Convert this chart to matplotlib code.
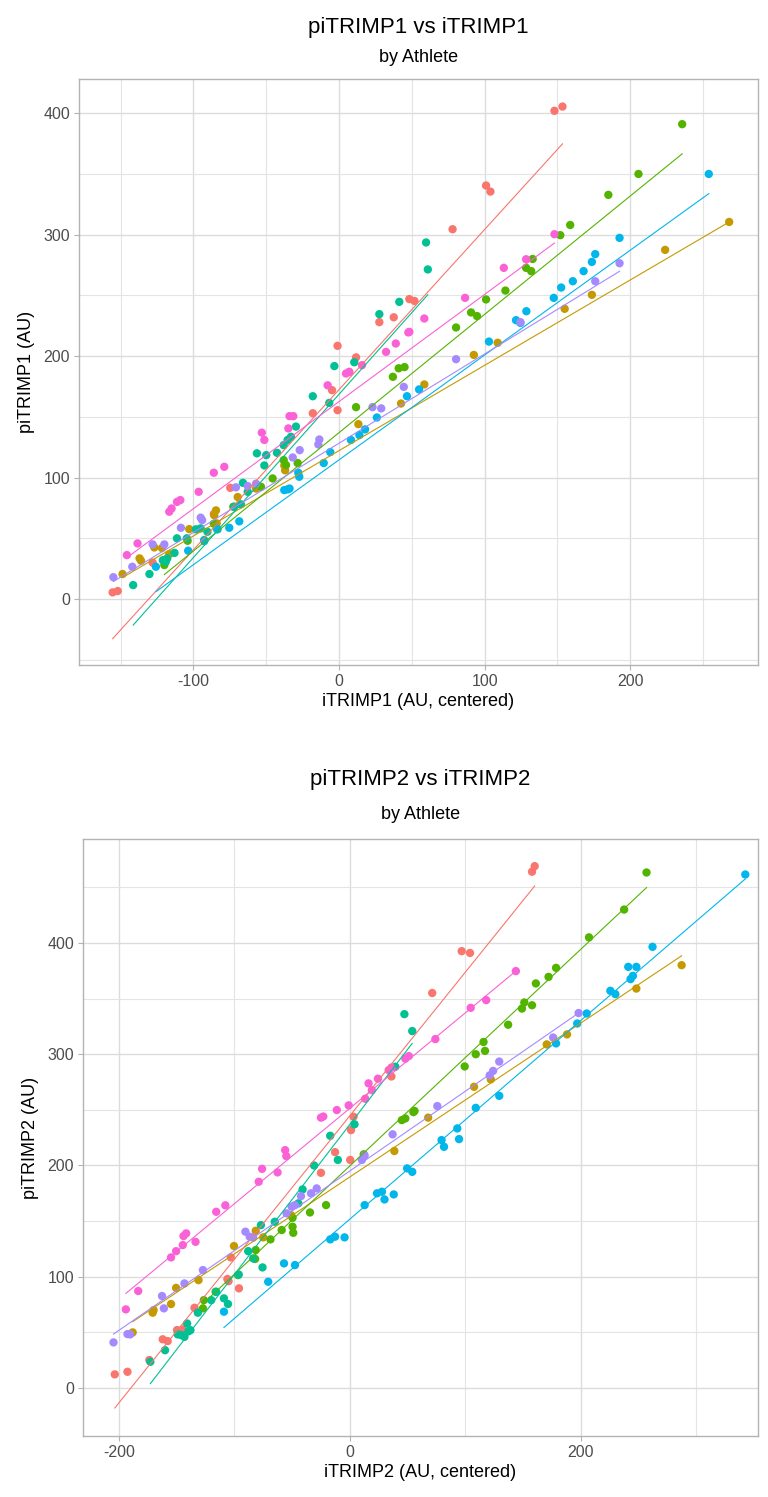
import numpy as np
import matplotlib
matplotlib.use("Agg")
import matplotlib.pyplot as plt

plt.rcParams['font.family'] = ['Liberation Sans', 'DejaVu Sans']
plt.rcParams['axes.unicode_minus'] = False

# ggplot hue palette, one colour per athlete
athletes = ["A1", "A2", "A3", "A4", "A5", "A6", "A7"]
colors = ["#F8766D", "#C49A00", "#53B400", "#00C094", "#00B6EB", "#A58AFF", "#FB61D7"]

# ---- panel 1 : piTRIMP1 vs iTRIMP1 ----
p1_red_x = [-155.5, -152, -128, -86, -74.7, -18, -4.8, -1, 7, -1, 11.7, 27.7, 37.6, 48.3, 51.8, 78, 101, 104, 148, 153.5]
p1_red_y = [5.5, 6.6, 30, 70, 91.6, 153, 172, 155.5, 187, 208.5, 199, 228, 232, 247, 245.5, 304.5, 340.5, 335.5, 402, 405.5]
p1_gold_x = [-148.7, -137, -136, -126.9, -121.6, -116.6, -102.9, -85.7, -84.5, -84, -69.6, -57, -37, -37.6, 13.3, 42.6,
             58.6, 92.6, 109, 155, 173.7, 224, 268]
p1_gold_y = [20.6, 33.5, 31.5, 42.5, 42, 37, 57.6, 69, 73, 62.3, 84, 91, 106, 110, 144, 161,
             176.7, 201, 211, 239, 250.5, 287.5, 310.5]
p1_green_x = [-120, -104, -86, -72.6, -53.6, -45.6, -38, -36.4, -28.4, 11.7, 37, 41, 45, 80.4, 90.7, 94.8, 101, 114.3,
              128.5, 132, 133, 152, 158.8, 185, 205.7, 235.7]
p1_green_y = [28, 48, 62, 76, 92.4, 99.3, 114.4, 110.3, 112, 158, 183, 190, 191, 223.6, 236, 233, 246.7, 254,
              272.7, 270, 280, 299.6, 308, 332.8, 350, 391]
p1_teal_x = [-141.4, -130.2, -121, -119, -118, -113, -111.3, -104.5, -98.3, -95, -90.4, -92.6, -83.8, -72, -67.4, -66,
             -62.7, -56.4, -50, -51.3, -42.6, -38, -35.3, -33, -29.6, -18, -6.7, -3.2, 10.5, 27.7, 41.4, 59.8, 61]
p1_teal_y = [11.5, 20.6, 32, 30.7, 33.5, 38, 50, 50, 57.4, 58.2, 55.4, 48.6, 57.6, 76, 78, 95.7,
             88.3, 120, 118.5, 110, 120.4, 126.7, 131, 133.6, 142, 167, 161.5, 191.8, 195, 234.6, 244.7, 293.6, 271.4]
p1_blue_x = [-125.8, -103.6, -92.6, -83.4, -75.4, -68.5, -37.6, -35.3, -34, -27.3, -28, -10.5, -6, 8.2, 14, 17.9, 26,
             46.7, 55, 103, 121.6, 124.6, 128.7, 147.5, 152.6, 160.6, 168, 173.7, 176, 192.7, 254]
p1_blue_y = [26.6, 39.8, 47.7, 57.4, 58.7, 64, 89.7, 90.3, 91, 100.7, 104, 112, 121, 131, 135, 139.7, 149.5,
             167, 172.6, 212, 229.6, 227.4, 237, 248, 256.5, 261.7, 270, 277.6, 284, 297.4, 350]
p1_purple_x = [-155, -142, -128, -120, -108.6, -95, -94, -70.8, -62.7, -57, -31.8, -27, -14.2, -13.5, 23, 29, 44.5,
               80.4, 124.6, 176, 192.7]
p1_purple_y = [18, 26.6, 45, 45, 58.7, 67, 65, 92, 93, 95, 116.6, 122.6, 127.3, 131.4, 158, 157, 174.7,
               197.5, 228, 261.7, 276.5]
p1_pink_x = [-145.7, -138.4, -116.6, -115, -111.3, -109, -96.4, -86, -78.8, -53, -51.3, -34, -31.4, -34.8, -7.8, 4.8,
             7, 15.8, 32.3, 39, 47.6, 48.3, 58.6, 86.6, 113.2, 128.5, 148]
p1_pink_y = [36.2, 45.8, 71.9, 74.6, 80, 81.5, 88.3, 104, 108.9, 137, 131, 150.6, 150.6, 140.5, 176, 185.7,
             187, 192.6, 203.5, 210.4, 219.5, 220, 231, 248, 272.7, 279.8, 300.4]
# model lines per athlete (intercept at 0, slope)
p1_intercept = [172.4, 122.2, 137.0, 168.6, 114.6, 128.3, 162.6]
p1_slope = [1.3186, 0.7025, 0.974, 1.344, 0.863, 0.7347, 0.882]

# ---- panel 2 : piTRIMP2 vs iTRIMP2 ----
p2_red_x = [-203.5, -192.5, -173.6, -162, -157.7, -149.6, -144.6, -134.5, -106, -105, -96, -103, -25, -12.8, 0.3, 1,
            3.2, 36, 71.3, 96.8, 104, 157.7, 160]
p2_red_y = [12.3, 14.6, 25.2, 43.8, 42.2, 52.1, 52.7, 72.1, 98, 96, 89.6, 117.4, 193.4, 212, 205, 231.8,
            243.8, 280, 355, 392.6, 391, 464, 469]
p2_gold_x = [-188, -170.7, -169.9, -154.8, -150.4, -131, -100.3, -81.5, -75, -51, 38.5, 67.8, 107.5, 122, 170.4, 188,
             248, 287.2]
p2_gold_y = [50, 67.7, 70, 75.5, 90, 97, 127.6, 141.3, 135.4, 155.4, 213, 243, 270.7, 277.4, 308.8, 317.8,
             359, 380]
p2_green_x = [-127.2, -126.4, -116.2, -96.8, -82, -81.5, -68.7, -59, -49.6, -49, -49.6, -34.5, -20.6, 12, 45, 48, 55,
              56, 99.4, 109, 117, 115.7, 137, 149, 151, 157.7, 161, 172, 178.5, 207, 237.4, 256.8]
p2_green_y = [71.6, 79, 86.5, 101.5, 116, 124, 133.6, 142, 145, 139.5, 153, 157.8, 164.4, 210, 240.8, 242.3, 248,
              249, 289, 300, 303, 311, 326.5, 341, 346.5, 344, 363.6, 369.5, 377.6, 405, 430, 463.3]
p2_teal_x = [-172.7, -160, -149, -146, -143.2, -140.9, -139.7, -138, -131.6, -120, -115.7, -109, -105.5, -96.2, -88,
             -83.7, -75.6, -77, -65, -44.6, -40.9, -31, -17, -10.4, 4, 39.4, 47.2, 54]
p2_teal_y = [23.6, 34, 48.2, 47.6, 46, 58, 51, 52, 67.7, 79, 86.5, 80.6, 75.5, 102, 123,
             116.5, 108.4, 146.4, 149.4, 166, 178.5, 200, 226.7, 205, 237, 288.7, 336, 320.8]
p2_blue_x = [-109, -70.7, -57, -47.5, -17, -12.8, -4.6, 12.8, 23.5, 27.8, 30, 38, 49.6, 54, 79.4, 81.5, 94.5, 93, 109,
             129.3, 178.5, 196.8, 205, 225.5, 229.8, 241, 248, 245, 243, 262, 342.3]
p2_blue_y = [68.6, 95.5, 112, 110.5, 133.6, 136, 135.4, 164.4, 175, 176.4, 169.5, 174, 197.4, 194.3, 222.8, 216.8,
             223.7, 233.3, 251.8, 262.6, 309.7, 327.6, 336.6, 357, 354, 378.5, 378.5, 370.4, 367.5, 396.5, 461.5]
p2_purple_x = [-204.6, -192.5, -190.2, -162.6, -161, -143.2, -127.2, -90.4, -86.7, -83.7, -54.8, -50.4, -47.5, -42.3,
               -33.6, -28.7, 10.4, 12.8, 37, 75.7, 121, 124, 129.3, 176, 198]
p2_purple_y = [41, 48.5, 48.2, 82.7, 71.6, 94, 106, 140.5, 136, 135.2, 157, 163, 164.4, 172.5,
               175, 179.4, 205, 209, 228, 253.4, 281, 285, 293.4, 315, 337]
p2_pink_x = [-193.9, -183.2, -154.8, -150.4, -144.6, -144, -141.7, -133.6, -115.7, -107.8, -78.9, -76, -62.6, -56, -55,
             -25, -23, -11.3, -1, 13.3, 16.2, 19, 24.3, 33.6, 36, 48, 51, 74, 104.6, 118, 143.7]
p2_pink_y = [70.7, 87.2, 117.4, 123, 128.5, 136.6, 139, 131.4, 158.4, 164.2, 185.4, 197, 193.8, 213.8, 208.4,
             243, 244, 249.8, 254, 260, 273.8, 267.7, 278, 285.7, 288, 296, 298.3, 313.6, 341.7, 348.6, 374.7]
p2_intercept = [244.7, 189.7, 199.6, 236.9, 151.8, 195.1, 251.4]
p2_slope = [1.2906, 0.692, 0.974, 1.349, 0.8931, 0.7166, 0.858]

p1_xs = [p1_red_x, p1_gold_x, p1_green_x, p1_teal_x, p1_blue_x, p1_purple_x, p1_pink_x]
p1_ys = [p1_red_y, p1_gold_y, p1_green_y, p1_teal_y, p1_blue_y, p1_purple_y, p1_pink_y]
p2_xs = [p2_red_x, p2_gold_x, p2_green_x, p2_teal_x, p2_blue_x, p2_purple_x, p2_pink_x]
p2_ys = [p2_red_y, p2_gold_y, p2_green_y, p2_teal_y, p2_blue_y, p2_purple_y, p2_pink_y]


def draw_panel(ax, xs, ys, intercepts, slopes, xlim, ylim, xmajor, xminor, ymajor, yminor):
    for xv, yv, col in zip(xs, ys, colors):
        ax.scatter(xv, yv, s=36, color=col, edgecolors='none', zorder=3)
    for xv, a, b, col in zip(xs, intercepts, slopes, colors):
        xl = np.array([min(xv), max(xv)])
        ax.plot(xl, a + b * xl, color=col, lw=0.8, zorder=4)
    ax.set_xlim(xlim)
    ax.set_ylim(ylim)
    ax.set_xticks(xmajor)
    ax.set_xticks(xminor, minor=True)
    ax.set_yticks(ymajor)
    ax.set_yticks(yminor, minor=True)
    ax.grid(which='major', color='#dcdcdc', lw=1.0)
    ax.grid(which='minor', color='#e4e4e4', lw=0.8)
    ax.set_axisbelow(True)
    for sp in ax.spines.values():
        sp.set_color('#b3b3b3')
        sp.set_linewidth(1.0)
    ax.tick_params(which='major', length=3.5, color='#b3b3b3', labelcolor='#4d4d4d', labelsize=11.5, pad=3)
    ax.tick_params(which='minor', length=0)


fig = plt.figure(figsize=(7.68, 14.97), dpi=100)

ax1 = fig.add_axes([79 / 768, 1 - 665 / 1497, 679 / 768, 586 / 1497])
draw_panel(ax1, p1_xs, p1_ys, p1_intercept, p1_slope, (-178.6, 287.8), (-54.3, 428.2),
           [-100, 0, 100, 200], [-150, -50, 50, 150, 250], [0, 100, 200, 300, 400], [-50, 50, 150, 250, 350])
ax1.set_xlabel("iTRIMP1 (AU, centered)", fontsize=13, labelpad=3)
ax1.set_ylabel("piTRIMP1 (AU)", fontsize=13, labelpad=6)
fig.text(ax1.get_position().x0 + ax1.get_position().width / 2, 1 - 27 / 1497, "piTRIMP1 vs iTRIMP1",
         ha='center', va='center', fontsize=16)
fig.text(ax1.get_position().x0 + ax1.get_position().width / 2, 1 - 58 / 1497, "by Athlete",
         ha='center', va='center', fontsize=13)

ax2 = fig.add_axes([83 / 768, 1 - 1436 / 1497, 675 / 768, 597 / 1497])
draw_panel(ax2, p2_xs, p2_ys, p2_intercept, p2_slope, (-231, 353.3), (-43.1, 493.4),
           [-200, 0, 200], [-100, 100, 300], [0, 100, 200, 300, 400], [50, 150, 250, 350, 450])
ax2.set_xlabel("iTRIMP2 (AU, centered)", fontsize=13, labelpad=3)
ax2.set_ylabel("piTRIMP2 (AU)", fontsize=13, labelpad=6)
fig.text(ax2.get_position().x0 + ax2.get_position().width / 2, 1 - 779 / 1497, "piTRIMP2 vs iTRIMP2",
         ha='center', va='center', fontsize=16)
fig.text(ax2.get_position().x0 + ax2.get_position().width / 2, 1 - 815 / 1497, "by Athlete",
         ha='center', va='center', fontsize=13)

fig.savefig("out.png", dpi=100)
